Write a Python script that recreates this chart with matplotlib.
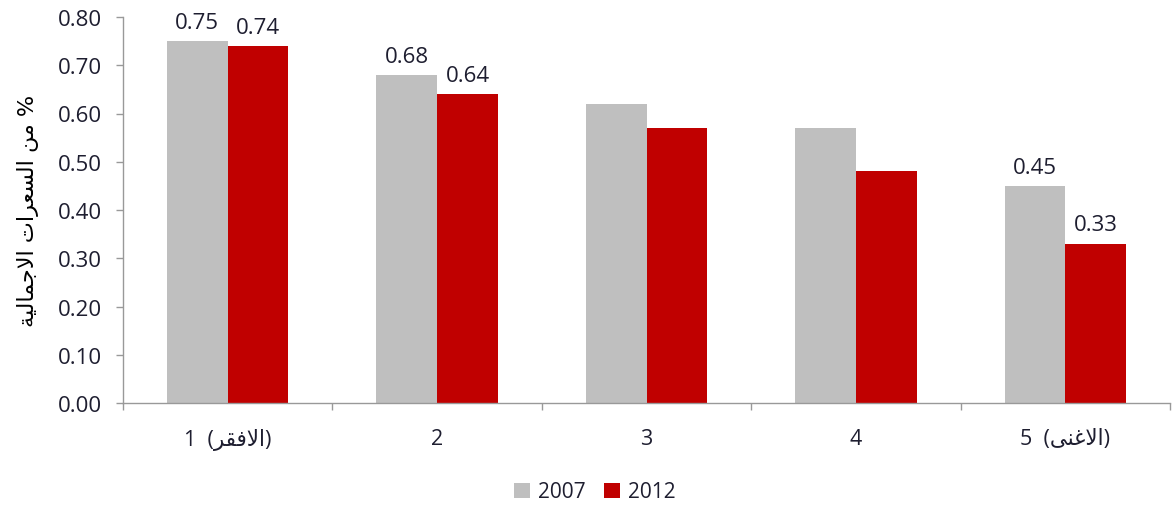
import matplotlib
matplotlib.use("Agg")
import matplotlib.pyplot as plt
import numpy as np

# ---- data ----
groups = ["1", "2", "3", "4", "5"]
group_notes = {0: "(الافقر)", 4: "(الاغنى)"}
series_names = ["2007", "2012"]
values_2007 = [0.75, 0.68, 0.62, 0.57, 0.45]
values_2012 = [0.74, 0.64, 0.57, 0.48, 0.33]
labelled_groups = [0, 1, 4]
y_title = "% من السعرات الاجمالية"
y_ticks = [0.0, 0.1, 0.2, 0.3, 0.4, 0.5, 0.6, 0.7, 0.8]

# ---- minimal Arabic shaping (matplotlib has no text shaping) ----
# letter: (isolated, final, initial, medial); right-joining letters have only 2 forms
FORMS = {
    "ا": ("\uFE8D", "\uFE8E"),
    "ة": ("\uFE93", "\uFE94"),
    "ت": ("\uFE95", "\uFE96", "\uFE97", "\uFE98"),
    "ج": ("\uFE9D", "\uFE9E", "\uFE9F", "\uFEA0"),
    "ر": ("\uFEAD", "\uFEAE"),
    "س": ("\uFEB1", "\uFEB2", "\uFEB3", "\uFEB4"),
    "ع": ("\uFEC9", "\uFECA", "\uFECB", "\uFECC"),
    "غ": ("\uFECD", "\uFECE", "\uFECF", "\uFED0"),
    "ف": ("\uFED1", "\uFED2", "\uFED3", "\uFED4"),
    "ق": ("\uFED5", "\uFED6", "\uFED7", "\uFED8"),
    "ل": ("\uFEDD", "\uFEDE", "\uFEDF", "\uFEE0"),
    "م": ("\uFEE1", "\uFEE2", "\uFEE3", "\uFEE4"),
    "ن": ("\uFEE5", "\uFEE6", "\uFEE7", "\uFEE8"),
    "ى": ("\uFEEF", "\uFEF0"),
    "ي": ("\uFEF1", "\uFEF2", "\uFEF3", "\uFEF4"),
    "لا": ("\uFEFB", "\uFEFC"),
}
MIRROR = {"(": ")", ")": "("}


def shape_arabic(text):
    # merge lam-alef into one unit
    units = []
    i = 0
    while i < len(text):
        if text[i] == "ل" and i + 1 < len(text) and text[i + 1] == "ا":
            units.append("لا")
            i += 2
        else:
            units.append(text[i])
            i += 1
    out = []
    for k, u in enumerate(units):
        if u not in FORMS:
            out.append(MIRROR.get(u, u))
            continue
        prev = units[k - 1] if k > 0 else None
        nxt = units[k + 1] if k + 1 < len(units) else None
        joins_prev = prev in FORMS and len(FORMS[prev]) == 4
        joins_next = len(FORMS[u]) == 4 and nxt in FORMS
        f = FORMS[u]
        if joins_prev and joins_next:
            out.append(f[3])
        elif joins_prev:
            out.append(f[1])
        elif joins_next:
            out.append(f[2])
        else:
            out.append(f[0])
    return "".join(reversed(out))


plt.rcParams["font.family"] = ["Open Sans", "DejaVu Sans"]
text_color = "#1e1e30"

fig = plt.figure(figsize=(11.76, 5.06), dpi=100)
ax = fig.add_axes([123 / 1176, 1 - 404 / 506, (1170 - 123) / 1176, (404 - 18) / 506])

x = np.arange(len(groups))
w = 0.29
b1 = ax.bar(x - w / 2, values_2007, w, color="#BFBFBF", label=series_names[0], zorder=2)
b2 = ax.bar(x + w / 2, values_2012, w, color="#C00000", label=series_names[1], zorder=2)

for i in labelled_groups:
    for bars, vals in ((b1, values_2007), (b2, values_2012)):
        r = bars[i]
        ax.annotate(f"{vals[i]:.2f}", (r.get_x() + r.get_width() / 2, vals[i]),
                    xytext=(0, 6), textcoords="offset points",
                    ha="center", va="bottom", fontsize=16, color=text_color)

ax.set_xlim(-0.5, len(groups) - 0.5)
ax.set_ylim(0, 0.8)
ax.set_yticks(y_ticks)
ax.set_yticklabels([f"{t:.2f}" for t in y_ticks], fontsize=16, color=text_color)

tick_labels = []
for i, g in enumerate(groups):
    if i in group_notes:
        tick_labels.append(g + "  " + shape_arabic(group_notes[i]))
    else:
        tick_labels.append(g)
ax.set_xticks(x)
ax.set_xticklabels(tick_labels, fontsize=15.5, color=text_color)
ax.set_xticks(np.arange(-0.5, len(groups)), minor=True)
ax.tick_params(axis="x", which="major", length=0, pad=18)
ax.tick_params(axis="x", which="minor", length=5, width=1, color="#999999", direction="out")
ax.tick_params(axis="y", length=5, width=1, color="#999999", pad=10)

for s in ("top", "right"):
    ax.spines[s].set_visible(False)
for s in ("left", "bottom"):
    ax.spines[s].set_color("#999999")
    ax.spines[s].set_linewidth(1)

ax.set_ylabel(shape_arabic(y_title), fontsize=16, color="black", family="DejaVu Sans", labelpad=14)

fig.legend(loc="center", bbox_to_anchor=(595 / 1176, 1 - 493 / 506), ncol=2, frameon=False,
           fontsize=15, handlelength=0.75, handleheight=0.75, handletextpad=0.4,
           columnspacing=0.9, labelcolor=text_color)

fig.savefig("out.png", dpi=100)
